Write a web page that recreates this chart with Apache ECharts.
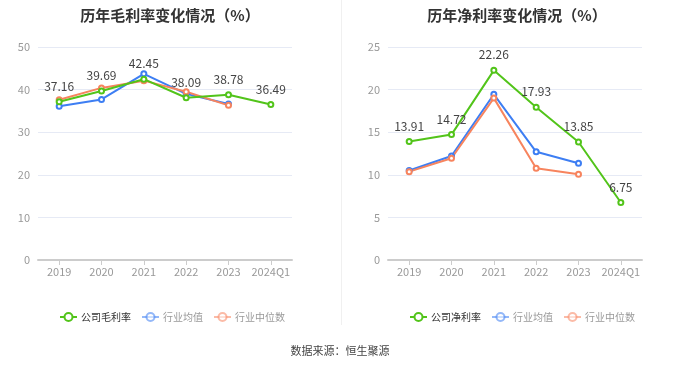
<!DOCTYPE html>
<html><head><meta charset="utf-8">
<script src="https://cdn.jsdelivr.net/npm/echarts@6/dist/echarts.min.js"></script>
<style>html,body{margin:0;padding:0;background:#fff}#c{width:680px;height:367px}</style>
</head><body><div id="c"></div>
<script>
const categories = ['2019','2020','2021','2022','2023','2024Q1'];
const grossCompany = [37.16, 39.69, 42.45, 38.09, 38.78, 36.49];
const grossIndustryAvg = [36.1, 37.7, 43.7, 39.0, 36.6];
const grossIndustryMedian = [37.6, 40.4, 42.1, 39.5, 36.3];
const netCompany = [13.91, 14.72, 22.26, 17.93, 13.85, 6.75];
const netIndustryAvg = [10.5, 12.2, 19.45, 12.7, 11.35];
const netIndustryMedian = [10.37, 11.94, 19.0, 10.76, 10.06];
const grossTicks = {min:0, max:50, interval:10};
const netTicks = {min:0, max:25, interval:5};

const GREEN='#52c41a', BLUE='#3d7ef3', ORANGE='#f7845e';
const FONT='"Noto Sans CJK SC", "Noto Sans", sans-serif';
const chart = echarts.init(document.getElementById('c'));

function lineSeries(name, data, color, idx, label){
  return {
    name, type:'line', data, xAxisIndex:idx, yAxisIndex:idx,
    symbol:'emptyCircle', symbolSize:5,
    lineStyle:{width:2, color}, itemStyle:{color, borderWidth:1.5},
    label: label ? {show:true, position:'top', color:'#444', fontSize:12, fontFamily:FONT, distance:6} : {show:false},
    z: label ? 3 : 2
  };
}
function legendData(company){
  return [
    {name:company, textStyle:{color:'#333'}},
    {name:'行业均值', itemStyle:{opacity:0.55}, lineStyle:{opacity:0.55}, textStyle:{color:'#999'}},
    {name:'行业中位数', itemStyle:{opacity:0.55}, lineStyle:{opacity:0.55}, textStyle:{color:'#999'}}
  ];
}
const axisLabel = {color:'#999', fontSize:11, fontFamily:FONT};
const legendBase = {top:307, itemWidth:17, itemHeight:10, itemGap:10, textStyle:{fontSize:10, fontFamily:FONT, padding:[0,0,0,-1]}, selectedMode:false};
chart.setOption({
  animation:false,
  textStyle:{fontFamily:FONT},
  title:[
    {text:'历年毛利率变化情况（%）', left:165, top:3, textAlign:'center', textStyle:{fontSize:15, fontWeight:'bold', color:'#333', fontFamily:FONT}},
    {text:'历年净利率变化情况（%）', left:512, top:3, textAlign:'center', textStyle:{fontSize:15, fontWeight:'bold', color:'#333', fontFamily:FONT}}
  ],
  legend:[
    {...legendBase, left:54, data:legendData('公司毛利率')},
    {...legendBase, left:404, data:legendData('公司净利率')}
  ],
  grid:[
    {left:38, right:388, top:47, bottom:107},
    {left:388, right:38, top:47, bottom:107}
  ],
  xAxis:[0,1].map(i=>({
    type:'category', gridIndex:i, data:categories, boundaryGap:true,
    axisLine:{lineStyle:{color:'#ccc', width:2}}, axisTick:{show:true, alignWithLabel:true, lineStyle:{color:'#ccc'}},
    axisLabel:{...axisLabel, margin:6, interval:0}
  })),
  yAxis:[
    {type:'value', gridIndex:0, ...grossTicks, axisLine:{show:false}, axisTick:{show:false}, axisLabel:{...axisLabel, margin:8}, splitLine:{lineStyle:{color:'#e6eaf5'}}},
    {type:'value', gridIndex:1, ...netTicks, axisLine:{show:false}, axisTick:{show:false}, axisLabel:{...axisLabel, margin:8}, splitLine:{lineStyle:{color:'#e6eaf5'}}}
  ],
  graphic:[
    {type:'line', shape:{x1:341.5, y1:0, x2:341.5, y2:325}, style:{stroke:'#f0f0f0', lineWidth:1}},
    {type:'text', left:'center', top:345, style:{text:'数据来源：恒生聚源', fill:'#444', font:'11px '+FONT}}
  ],
  series:[
    lineSeries('行业均值', grossIndustryAvg, BLUE, 0, false),
    lineSeries('行业中位数', grossIndustryMedian, ORANGE, 0, false),
    lineSeries('公司毛利率', grossCompany, GREEN, 0, true),
    lineSeries('行业均值', netIndustryAvg, BLUE, 1, false),
    lineSeries('行业中位数', netIndustryMedian, ORANGE, 1, false),
    lineSeries('公司净利率', netCompany, GREEN, 1, true)
  ]
});
</script></body></html>
